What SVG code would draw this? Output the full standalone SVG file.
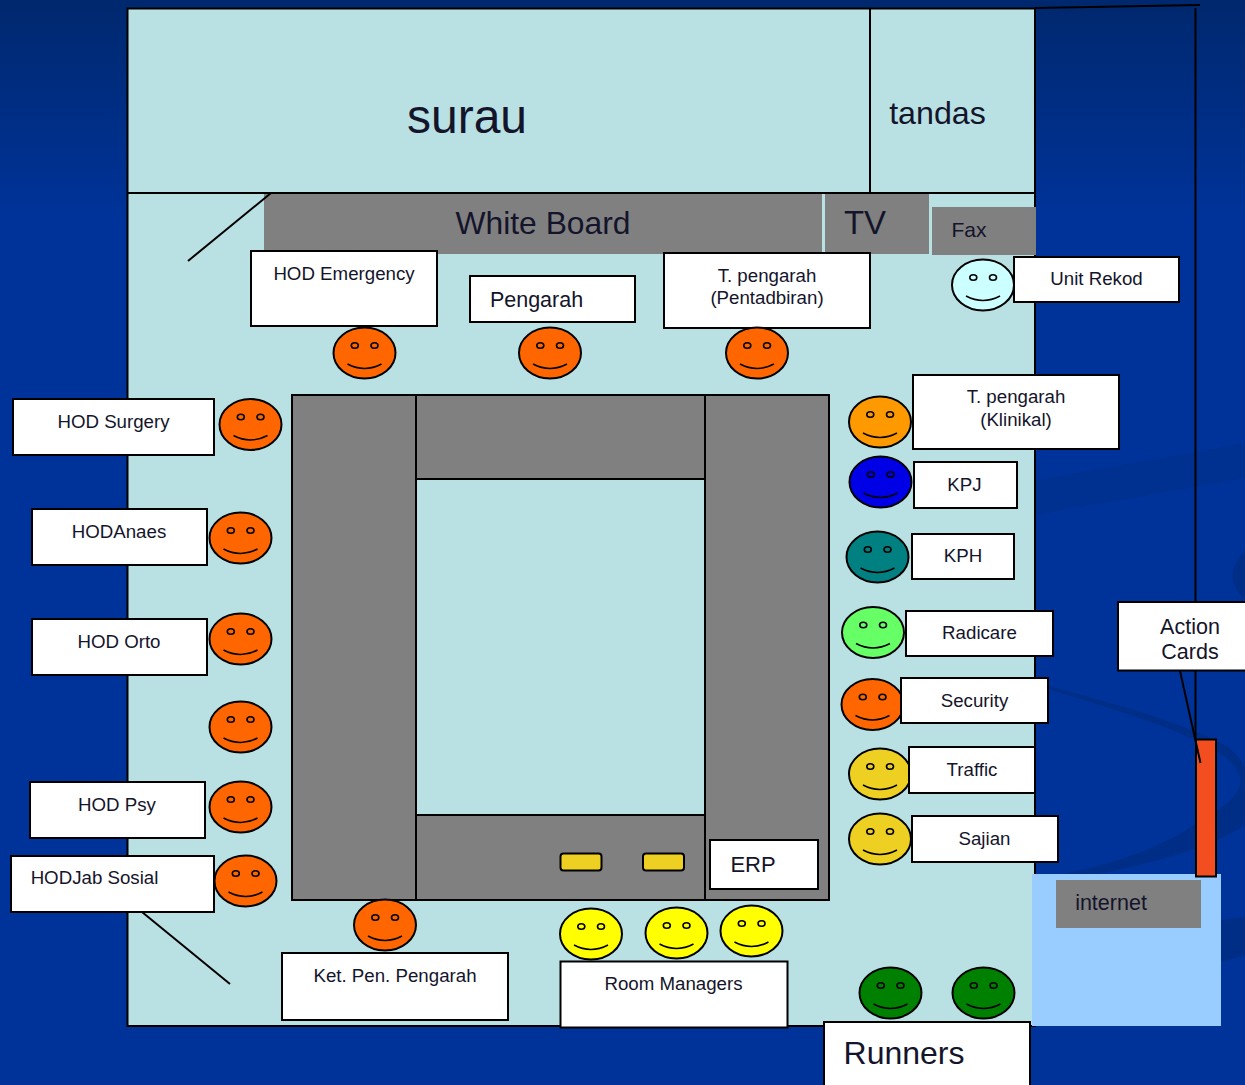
<svg xmlns="http://www.w3.org/2000/svg" width="1245" height="1085" viewBox="0 0 1245 1085">
<style>
text{font-family:"Liberation Sans",Arial,sans-serif;fill:#14142b;text-anchor:middle}
.b{fill:#fff;stroke:#000;stroke-width:2}
.g{fill:#808080;stroke:#000;stroke-width:2}
.n{fill:#808080}
.l{stroke:#000;stroke-width:2;fill:none}
.f{stroke:#000;stroke-width:2}
.e{fill:none;stroke:#000;stroke-width:1.600}
.t{font-size:18.700px}
.w{fill:#002e87}
.v{fill:#003090}
</style>
<defs>
<linearGradient id="bg" x1="0" y1="0" x2="0" y2="1"><stop offset="0" stop-color="#00286e"/><stop offset="0.2" stop-color="#003399"/><stop offset="1" stop-color="#003399"/></linearGradient>
<g id="s">
<ellipse class="f" rx="31" ry="25.500"/>
<ellipse class="e" cx="-9.700" cy="-7.500" rx="3.500" ry="2.800"/>
<ellipse class="e" cx="10" cy="-7.500" rx="3.500" ry="2.800"/>
<path class="e" d="M-17 11Q0 20 17 11"/>
</g>
</defs>
<rect id="background" width="1245" height="1085" fill="url(#bg)"/>
<g id="swooshes">
<path class="v" d="M1036 480L1245 443V478L1036 515Z"/>
<path class="w" d="M1245 550Q1232 565 1232 577Q1234 590 1245 600Z"/>
<path class="w" d="M1048 686C1120 705 1190 725 1228 747C1240 757 1245 765 1245 770V825C1216 845 1160 862 1090 876H1050C1120 865 1170 842 1197 823C1230 805 1243 790 1240 777C1236 765 1226 755 1205 745C1160 722 1100 705 1048 689Z"/>
<path class="w" d="M1215 921L1245 917V955L1215 964Z"/>
</g>
<g id="floor">
<rect x="127.500" y="8.500" width="907.500" height="1017.500" fill="#b9e0e3" stroke="#000" stroke-width="2"/>
<path class="l" d="M127.500 193H1035M870 9V193"/>
<path d="M1035 8L1200 5" class="l"/>
<path d="M1195.500 8V740" class="l"/>
</g>
<g id="surau"><text x="467" y="133" font-size="48">surau</text></g>
<g id="tandas"><text x="937.500" y="124" font-size="32.200">tandas</text></g>
<g id="whiteboard"><rect class="n" x="264" y="194" width="558" height="60"/><text x="543" y="234" font-size="31.800">White Board</text></g>
<g id="tv"><rect class="n" x="825" y="194" width="104" height="60"/><text x="865" y="234" font-size="33">TV</text></g>
<g id="fax"><rect class="n" x="932" y="207" width="104" height="48"/><text x="969" y="237" font-size="21">Fax</text></g>
<g id="walls"><path d="M271 193L188 261M142 912L230 984" class="l"/></g>
<g id="table">
<rect class="g" x="292" y="395" width="537" height="505"/>
<rect x="416" y="479" width="289" height="336" fill="#b9e0e3" stroke="#000" stroke-width="2"/>
<path class="l" d="M416 395V900M705 395V900"/>
<rect x="560.500" y="853.500" width="41" height="17" rx="3" fill="#eed022" stroke="#000" stroke-width="2"/>
<rect x="643" y="853.500" width="41" height="17" rx="3" fill="#eed022" stroke="#000" stroke-width="2"/>
</g>
<g id="erp"><rect class="b" x="710" y="840" width="108" height="49"/><text x="753" y="872" font-size="22">ERP</text></g>
<g id="hod-emergency"><rect class="b" x="251" y="251" width="186" height="75"/><text class="t" x="344" y="280">HOD Emergency</text></g>
<g id="pengarah"><rect class="b" x="470" y="276" width="165" height="46"/><text x="536.500" y="307" font-size="21.500">Pengarah</text></g>
<g id="t-pentadbiran"><rect class="b" x="664" y="253" width="206" height="75"/><text class="t" x="767" y="282">T. pengarah</text><text class="t" x="767" y="304">(Pentadbiran)</text></g>
<g id="unit-rekod"><use href="#s" x="983" y="285" fill="#ccffff"/><rect class="b" x="1014" y="257" width="165" height="45"/><text class="t" x="1096.500" y="285">Unit Rekod</text></g>
<g id="smile-emergency"><use href="#s" x="364.500" y="353" fill="#ff6600"/></g>
<g id="smile-pengarah"><use href="#s" x="550" y="353" fill="#ff6600"/></g>
<g id="smile-pentadbiran"><use href="#s" x="757" y="353" fill="#ff6600"/></g>
<g id="hod-surgery"><rect class="b" x="13" y="399" width="201" height="56"/><text class="t" x="113.500" y="428">HOD Surgery</text><use href="#s" x="250.500" y="424.500" fill="#ff6600"/></g>
<g id="hod-anaes"><rect class="b" x="32" y="509" width="175" height="56"/><text class="t" x="119" y="538">HODAnaes</text><use href="#s" x="240.500" y="538" fill="#ff6600"/></g>
<g id="hod-orto"><rect class="b" x="32" y="619" width="175" height="56"/><text class="t" x="119" y="648">HOD Orto</text><use href="#s" x="240.500" y="639" fill="#ff6600"/></g>
<g id="smile-left"><use href="#s" x="240.500" y="727" fill="#ff6600"/></g>
<g id="hod-psy"><rect class="b" x="30" y="782" width="175" height="56"/><text class="t" x="117" y="811">HOD Psy</text><use href="#s" x="240.500" y="807" fill="#ff6600"/></g>
<g id="hod-jab-sosial"><rect class="b" x="11" y="856" width="203" height="56"/><text class="t" x="94.500" y="884">HODJab Sosial</text><use href="#s" x="245.500" y="881" fill="#ff6600"/></g>
<g id="ket-pen"><use href="#s" x="385" y="925" fill="#ff6600"/><rect class="b" x="282" y="953" width="226" height="67"/><text class="t" x="395" y="982">Ket. Pen. Pengarah</text></g>
<g id="room-managers"><use href="#s" x="591" y="934" fill="#ffff00"/><use href="#s" x="676.500" y="933" fill="#ffff00"/><use href="#s" x="751.500" y="931" fill="#ffff00"/><rect class="b" x="560.500" y="961.500" width="227" height="66"/><text class="t" x="673.500" y="990">Room Managers</text></g>
<g id="t-klinikal"><use href="#s" x="880" y="422" fill="#ff9900"/><rect class="b" x="913" y="375" width="206" height="74"/><text class="t" x="1016" y="403">T. pengarah</text><text class="t" x="1016" y="426">(Klinikal)</text></g>
<g id="kpj"><use href="#s" x="880.500" y="482" fill="#0000e6"/><rect class="b" x="914" y="462" width="103" height="46"/><text class="t" x="964.500" y="491">KPJ</text></g>
<g id="kph"><use href="#s" x="877.500" y="557" fill="#008080"/><rect class="b" x="912" y="534" width="102" height="45"/><text class="t" x="963" y="562">KPH</text></g>
<g id="radicare"><use href="#s" x="873" y="632.500" fill="#66ff66"/><rect class="b" x="906" y="611" width="147" height="45"/><text class="t" x="979.500" y="639">Radicare</text></g>
<g id="security"><use href="#s" x="872.500" y="704.500" fill="#ff6600"/><rect class="b" x="901" y="678" width="147" height="45"/><text class="t" x="974.500" y="707">Security</text></g>
<g id="traffic"><use href="#s" x="880" y="774" fill="#eed022"/><rect class="b" x="909" y="747" width="126" height="46"/><text class="t" x="972" y="776">Traffic</text></g>
<g id="sajian"><use href="#s" x="880" y="839" fill="#eed022"/><rect class="b" x="912" y="816" width="146" height="46"/><text class="t" x="984.500" y="845">Sajian</text></g>
<g id="internet-area"><rect x="1032" y="874" width="189" height="152" fill="#99ccff"/><rect class="n" x="1056" y="880" width="145" height="48"/><text x="1111" y="910" font-size="21.500">internet</text></g>
<g id="action-cards-bar"><rect x="1196" y="739.500" width="20" height="137" fill="#f34e20" stroke="#000" stroke-width="2"/></g>
<g id="action-cards"><rect class="b" x="1118" y="602" width="130" height="68.500"/><text x="1190" y="634" font-size="21.500">Action</text><text x="1190" y="659" font-size="21.500">Cards</text></g>
<g id="connectors"><path class="l" d="M1180 671L1200.500 763"/></g>
<g id="runners"><use href="#s" x="890.500" y="993" fill="#008000"/><use href="#s" x="983.500" y="993" fill="#008000"/><rect class="b" x="824" y="1022" width="206" height="70"/><text x="904" y="1064" font-size="32">Runners</text></g>
</svg>
